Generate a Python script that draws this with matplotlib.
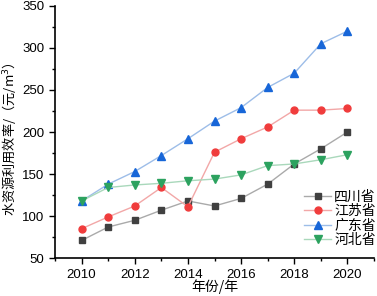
import matplotlib.pyplot as plt
from matplotlib.ticker import MultipleLocator

plt.rcParams['font.family'] = ['Liberation Sans', 'Noto Sans CJK SC', 'DejaVu Sans']

years = [2010, 2011, 2012, 2013, 2014, 2015, 2016, 2017, 2018, 2019, 2020]
sichuan = [71, 87, 95, 107, 118, 112, 121, 138, 162, 180, 200]
jiangsu = [85, 99, 112, 134, 111, 176, 192, 206, 226, 226, 228]
guangdong = [118, 138, 153, 172, 192, 213, 229, 253, 270, 305, 320]
hebei = [118, 134, 137, 139, 142, 144, 149, 160, 162, 167, 173]

names = ['四川省', '江苏省', '广东省', '河北省']
series = [sichuan, jiangsu, guangdong, hebei]
marker_colors = ['#404040', '#f03c3c', '#1766d8', '#2ca25f']
line_colors = ['#aaaaaa', '#f2a7a7', '#9dbde8', '#a9d8bb']
markers = ['s', 'o', '^', 'v']
sizes = [4.3, 5, 5.5, 5.5]

fig = plt.figure(figsize=(3.77, 2.96), dpi=100)
ax = fig.add_axes([0.146, 0.128, 0.846, 0.852])

for name, vals, mc, lc, m, s in zip(names, series, marker_colors, line_colors, markers, sizes):
    ax.plot(years, vals, color=lc, lw=1, marker=m, ms=s,
            markerfacecolor=mc, markeredgecolor=mc, label=name)

ax.set_xlim(2009, 2021)
ax.set_ylim(50, 350)
ax.xaxis.set_major_locator(MultipleLocator(2))
ax.xaxis.set_minor_locator(MultipleLocator(1))
ax.yaxis.set_major_locator(MultipleLocator(50))
ax.yaxis.set_minor_locator(MultipleLocator(25))
ax.tick_params(which='both', direction='out', labelsize=9.5, width=1)
ax.tick_params(which='major', length=4)
ax.tick_params(which='minor', length=2.5)
for sp in ['top', 'right']:
    ax.spines[sp].set_visible(False)
for sp in ['left', 'bottom']:
    ax.spines[sp].set_linewidth(1.2)

ax.set_xlabel('年份/年', fontsize=10, family=['Noto Sans CJK SC'])
ax.set_ylabel('水资源利用效率/（元/m$^3$）', fontsize=9.5,
              family=['Noto Sans CJK SC', 'DejaVu Sans'])
ax.xaxis.set_label_coords(0.5, -0.085)
ax.yaxis.set_label_coords(-0.115, 0.47)

leg = ax.legend(loc='lower right', bbox_to_anchor=(1.045, -0.005), frameon=False,
                handlelength=2.0, handletextpad=0.2, labelspacing=0.02,
                prop={'family': ['Noto Sans CJK SC'], 'size': 10})

fig.savefig('out.png', dpi=100)
